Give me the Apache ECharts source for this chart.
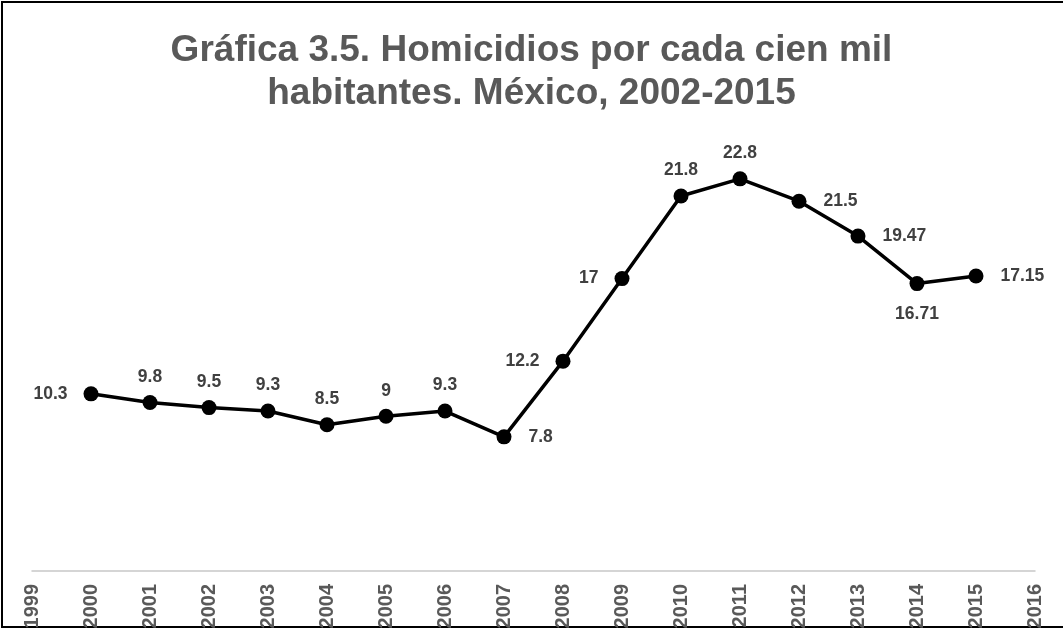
<!DOCTYPE html>
<html>
<head>
<meta charset="utf-8">
<script src="https://cdn.jsdelivr.net/npm/echarts@6/dist/echarts.min.js"></script>
<style>
  html, body { margin: 0; padding: 0; background: #fff; }
  #chart { width: 1063px; height: 629px; }
</style>
</head>
<body>
<div id="chart"></div>
<script>
// Homicidios por cada cien mil habitantes, México
const years = [2000, 2001, 2002, 2003, 2004, 2005, 2006, 2007, 2008, 2009, 2010, 2011, 2012, 2013, 2014, 2015];
const rates = [10.3, 9.8, 9.5, 9.3, 8.5, 9, 9.3, 7.8, 12.2, 17, 21.8, 22.8, 21.5, 19.47, 16.71, 17.15];
const labelSides = ['left', 'top', 'top', 'top', 'top', 'top', 'top', 'right', 'left', 'left', 'top', 'top', 'right', 'right', 'bottom', 'right'];
const titleText = 'Gráfica 3.5. Homicidios por cada cien mil\nhabitantes. México, 2002-2015';

const font = '"Liberation Sans", Arial, sans-serif';
// gap between a point's marker and its value label, per side
const labelGap = { top: 9, left: 16, right: 17, bottom: 14 };

const chart = echarts.init(document.getElementById('chart'), null, { renderer: 'canvas' });

chart.setOption({
  animation: false,
  backgroundColor: '#ffffff',
  title: {
    text: titleText,
    left: 'center',
    top: 24,
    textStyle: {
      fontFamily: font,
      fontSize: 37,
      fontWeight: 'bold',
      color: '#595959',
      lineHeight: 43
    }
  },
  graphic: [{
    type: 'rect',
    shape: { x: 2, y: 2, width: 1075, height: 625 },
    style: { fill: null, stroke: '#000', lineWidth: 2 },
    silent: true
  }],
  grid: { left: 32, right: 28, top: 141, bottom: 58, containLabel: false, outerBoundsMode: 'none' },
  xAxis: {
    type: 'value',
    min: 1999,
    max: 2016,
    interval: 1,
    splitLine: { show: false },
    axisTick: { show: false },
    axisLine: { show: true, lineStyle: { color: '#c8c8c8', width: 1.5 } },
    axisLabel: {
      rotate: 90,
      margin: 13,
      fontFamily: font,
      fontSize: 20,
      fontWeight: 'bold',
      color: '#595959',
      formatter: v => String(v)
    }
  },
  yAxis: {
    type: 'value',
    min: 0,
    max: 25,
    show: false,
    splitLine: { show: false }
  },
  series: [{
    type: 'line',
    data: years.map((y, i) => ({
      value: [y, rates[i]],
      label: { position: labelSides[i], distance: labelGap[labelSides[i]] }
    })),
    symbol: 'circle',
    symbolSize: 15,
    itemStyle: { color: '#000' },
    lineStyle: { color: '#000', width: 3.5 },
    label: {
      show: true,
      fontFamily: font,
      fontSize: 17.5,
      fontWeight: 'bold',
      color: '#404040',
      formatter: p => String(p.value[1])
    }
  }]
});
</script>
</body>
</html>
